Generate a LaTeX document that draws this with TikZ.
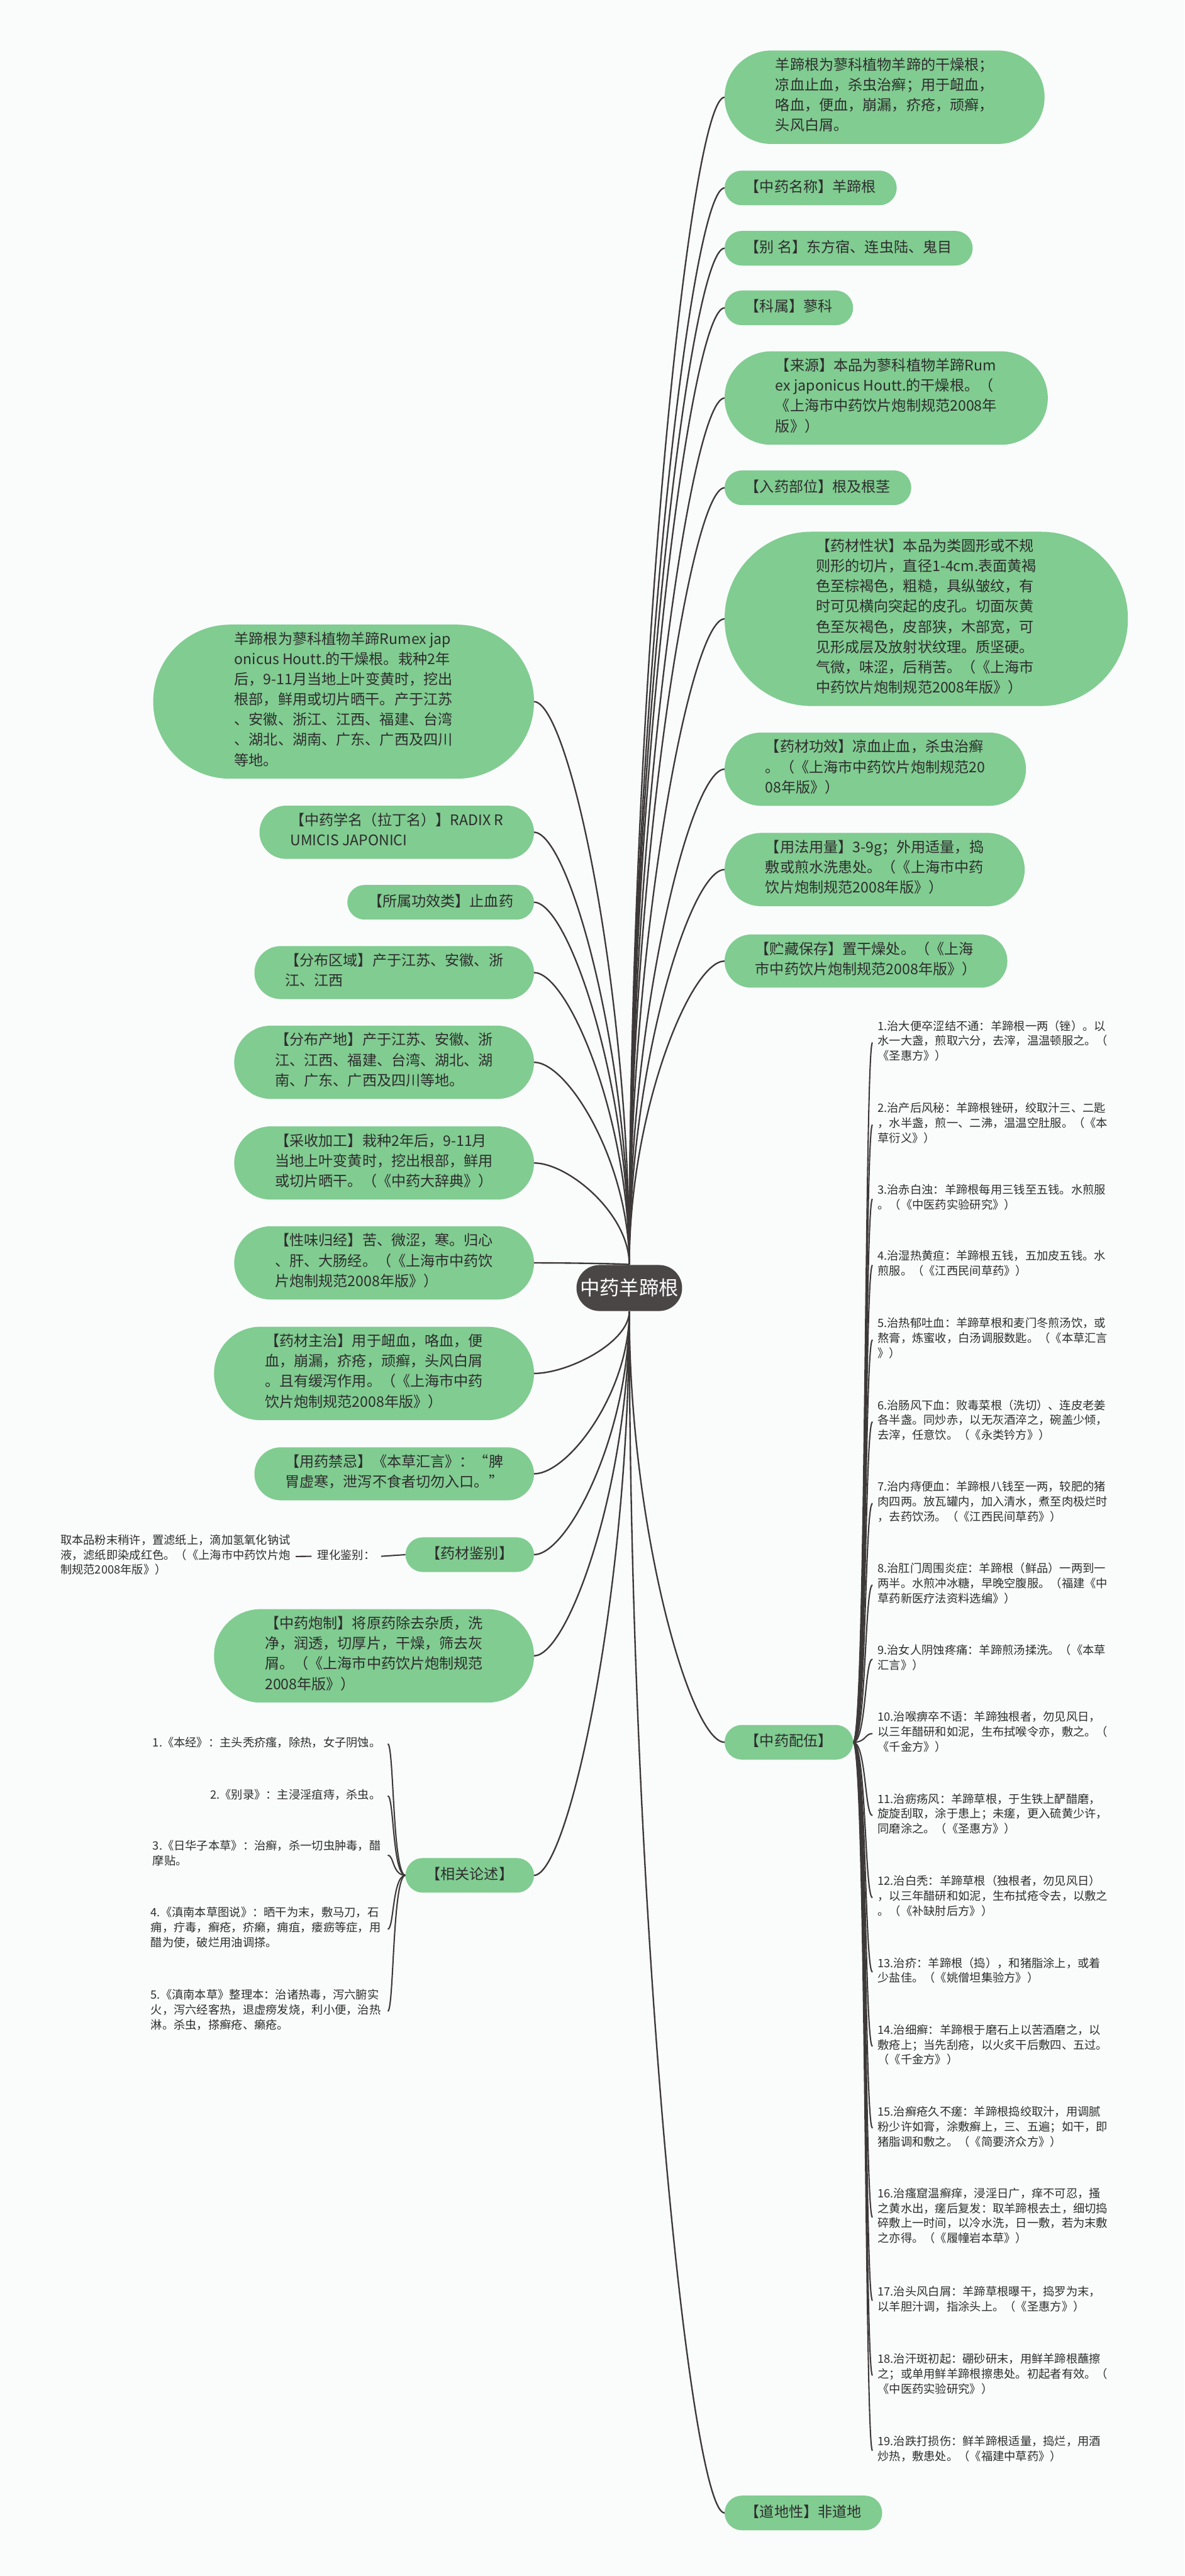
\documentclass[tikz,border=0pt]{standalone}
\usepackage{fontspec}
\newfontfamily\cjk{Noto Sans CJK SC}
\usetikzlibrary{shapes.misc,calc}
\definecolor{pillgreen}{RGB}{129,204,145}
\definecolor{txtc}{RGB}{45,45,45}
\definecolor{linec}{RGB}{62,57,57}
\definecolor{centerc}{RGB}{75,70,70}
\definecolor{bgc}{RGB}{250,252,252}
\pgfdeclarelayer{backlayer}
\pgfdeclarelayer{linelayer}
\pgfdeclarelayer{filllayer}
\pgfsetlayers{backlayer,linelayer,filllayer,main}
\newcommand\cconn[2]{\draw[conn] let \p1=(#1), \p2=(#2) in (\p1) .. controls (\x1,{0.5*\y1+0.5*\y2}) and ({\x1+0.64*(\x2-\x1)},\y2) .. (\p2);}
\newcommand\rconn[2]{\draw[thinconn] let \p1=(#1), \p2=(#2) in (\p1) .. controls ({\x1+8pt},\y1) and ({\x1+7pt},\y2) .. ({\x2-3pt},\y2);}
\newcommand\lconn[2]{\draw[thinconn] let \p1=(#1), \p2=(#2) in (\p1) .. controls ({\x1-8pt},\y1) and ({\x1-7pt},\y2) .. ({\x2+4pt},\y2);}
\tikzset{
 pill/.style={rectangle, text=txtc, font=\cjk\fontsize{8.85}{12.3}\selectfont, align=left, inner ysep=4.2pt, execute at begin node=\strut, execute at end node=\strut},
 pillA/.style={pill, inner xsep=12.35pt},
 pillB/.style={pill, inner xsep=18.5pt},
 pillC/.style={pill, inner xsep=24.65pt},
 pillD/.style={pill, inner xsep=30.8pt},
 pillG/.style={pill, inner xsep=49.25pt},
 pillH/.style={pill, inner xsep=55.4pt},
 centralnode/.style={rounded rectangle, fill=centerc, text=white, font=\cjk\fontsize{12}{14}\selectfont, minimum height=28pt, inner xsep=1pt},
 smalltext/.style={font=\cjk\fontsize{7}{9.15}\selectfont, text=txtc, align=left, inner sep=0pt, execute at begin node=\strut, execute at end node=\strut},
 conn/.style={draw=linec, line width=0.9pt},
 thinconn/.style={draw=linec, line width=0.8pt},
}
\begin{document}
\begin{tikzpicture}[x=1pt,y=-1pt]
\begin{pgfonlayer}{backlayer}
\fill[bgc] (0,0) rectangle (721,1568);
\end{pgfonlayer}
\useasboundingbox (0,0) rectangle (721,1568);

\node[centralnode] (c) at (383,784) {中药羊蹄根};

% right main branches
\node[pillD, anchor=west] (r1) at (441,59.2) {羊蹄根为蓼科植物羊蹄的干燥根；\\凉血止血，杀虫治癣；用于衄血，\\咯血，便血，崩漏，疥疮，顽癣，\\头风白屑。};
\node[pillA, anchor=west] (r2) at (441,114.4) {【中药名称】羊蹄根};
\node[pillA, anchor=west] (r3) at (441,151.1) {【别 名】东方宿、连虫陆、鬼目};
\node[pillA, anchor=west] (r4) at (441,187.4) {【科属】蓼科};
\node[pillD, anchor=west] (r5) at (441,242.3) {【来源】本品为蓼科植物羊蹄Rum\\ex japonicus Houtt.的干燥根。（\\《上海市中药饮片炮制规范2008年\\版》）};
\node[pillA, anchor=west] (r6) at (441,296.9) {【入药部位】根及根茎};
\node[pillH, anchor=west] (r7) at (441,376.7) {【药材性状】本品为类圆形或不规\\则形的切片，直径1-4cm.表面黄褐\\色至棕褐色，粗糙，具纵皱纹，有\\时可见横向突起的皮孔。切面灰黄\\色至灰褐色，皮部狭，木部宽，可\\见形成层及放射状纹理。质坚硬。\\气微，味涩，后稍苦。（《上海市\\中药饮片炮制规范2008年版》）};
\node[pillC, anchor=west] (r8) at (441,468.2) {【药材功效】凉血止血，杀虫治癣\\。（《上海市中药饮片炮制规范20\\08年版》）};
\node[pillC, anchor=west] (r9) at (441,529.3) {【用法用量】3-9g；外用适量，捣\\敷或煎水洗患处。（《上海市中药\\饮片炮制规范2008年版》）};
\node[pillB, anchor=west] (r10) at (441,585) {【贮藏保存】置干燥处。（《上海\\市中药饮片炮制规范2008年版》）};
\node[pillA, anchor=west] (r11) at (441,1060.5) {【中药配伍】};
\node[pillA, anchor=west] (r12) at (441,1529.6) {【道地性】非道地};

% left main branches
\node[pillG, anchor=east] (l1) at (325,427.1) {羊蹄根为蓼科植物羊蹄Rumex jap\\onicus Houtt.的干燥根。栽种2年\\后，9-11月当地上叶变黄时，挖出\\根部，鲜用或切片晒干。产于江苏\\、安徽、浙江、江西、福建、台湾\\、湖北、湖南、广东、广西及四川\\等地。};
\node[pillB, anchor=east] (l2) at (325,506.6) {【中药学名（拉丁名）】RADIX R\\UMICIS JAPONICI};
\node[pillA, anchor=east] (l3) at (325,549.2) {【所属功效类】止血药};
\node[pillB, anchor=east] (l4) at (325,592) {【分布区域】产于江苏、安徽、浙\\江、江西};
\node[pillC, anchor=east] (l5) at (325,646.6) {【分布产地】产于江苏、安徽、浙\\江、江西、福建、台湾、湖北、湖\\南、广东、广西及四川等地。};
\node[pillC, anchor=east] (l6) at (325,707.9) {【采收加工】栽种2年后，9-11月\\当地上叶变黄时，挖出根部，鲜用\\或切片晒干。（《中药大辞典》）};
\node[pillC, anchor=east] (l7) at (325,768.7) {【性味归经】苦、微涩，寒。归心\\、肝、大肠经。（《上海市中药饮\\片炮制规范2008年版》）};
\node[pillD, anchor=east] (l8) at (325,836) {【药材主治】用于衄血，咯血，便\\血，崩漏，疥疮，顽癣，头风白屑\\。且有缓泻作用。（《上海市中药\\饮片炮制规范2008年版》）};
\node[pillB, anchor=east] (l9) at (325,897.1) {【用药禁忌】《本草汇言》：“脾\\胃虚寒，泄泻不食者切勿入口。”};
\node[pillA, anchor=east] (l10) at (325,946.3) {【药材鉴别】};
\node[pillD, anchor=east] (l11) at (325,1007.9) {【中药炮制】将原药除去杂质，洗\\净，润透，切厚片，干燥，筛去灰\\屑。（《上海市中药饮片炮制规范\\2008年版》）};
\node[pillA, anchor=east] (l12) at (325,1141.5) {【相关论述】};

% 药材鉴别 sub
\node[smalltext, anchor=east, inner xsep=3.5pt] (lh) at (232,947.3) {理化鉴别：};
\node[smalltext, anchor=east, inner xsep=3pt] (qu) at (180,947.4) {取本品粉末稍许，置滤纸上，滴加氢氧化钠试\\液，滤纸即染成红色。（《上海市中药饮片炮\\制规范2008年版》）};

% 相关论述 items
\node[smalltext, anchor=east] (q1) at (232,1061.5) {1.《本经》：主头秃疥瘙，除热，女子阴蚀。};
\node[smalltext, anchor=east] (q2) at (232,1093.1) {2.《别录》：主浸淫疽痔，杀虫。};
\node[smalltext, anchor=east] (q3) at (232,1129.2) {3.《日华子本草》：治癣，杀一切虫肿毒，醋\\摩贴。};
\node[smalltext, anchor=east] (q4) at (232,1174.3) {4.《滇南本草图说》：晒干为末，敷马刀，石\\痈，疔毒，癣疮，疥癞，痈疽，瘘疬等症，用\\醋为使，破烂用油调搽。};
\node[smalltext, anchor=east] (q5) at (232,1224.2) {5.《滇南本草》整理本：治诸热毒，泻六腑实\\火，泻六经客热，退虚痨发烧，利小便，治热\\淋。杀虫，搽癣疮、癞疮。};

% 中药配伍 items
\node[smalltext, anchor=west] (p1) at (534,634.6) {1.治大便卒涩结不通：羊蹄根一两（锉）。以\\水一大盏，煎取六分，去滓，温温顿服之。（\\《圣惠方》）};
\node[smalltext, anchor=west] (p2) at (534,684.6) {2.治产后风秘：羊蹄根锉研，绞取汁三、二匙\\，水半盏，煎一、二沸，温温空肚服。（《本\\草衍义》）};
\node[smalltext, anchor=west] (p3) at (534,729.8) {3.治赤白浊：羊蹄根每用三钱至五钱。水煎服\\。（《中医药实验研究》）};
\node[smalltext, anchor=west] (p4) at (534,770.1) {4.治湿热黄疸：羊蹄根五钱，五加皮五钱。水\\煎服。（《江西民间草药》）};
\node[smalltext, anchor=west] (p5) at (534,815.5) {5.治热郁吐血：羊蹄草根和麦门冬煎汤饮，或\\熬膏，炼蜜收，白汤调服数匙。（《本草汇言\\》）};
\node[smalltext, anchor=west] (p6) at (534,865.4) {6.治肠风下血：败毒菜根（洗切）、连皮老姜\\各半盏。同炒赤，以无灰酒淬之，碗盖少倾，\\去滓，任意饮。（《永类钤方》）};
\node[smalltext, anchor=west] (p7) at (534,915.1) {7.治内痔便血：羊蹄根八钱至一两，较肥的猪\\肉四两。放瓦罐内，加入清水，煮至肉极烂时\\，去药饮汤。（《江西民间草药》）};
\node[smalltext, anchor=west] (p8) at (534,964.8) {8.治肛门周围炎症：羊蹄根（鲜品）一两到一\\两半。水煎冲冰糖，早晚空腹服。（福建《中\\草药新医疗法资料选编》）};
\node[smalltext, anchor=west] (p9) at (534,1009.9) {9.治女人阴蚀疼痛：羊蹄煎汤揉洗。（《本草\\汇言》）};
\node[smalltext, anchor=west] (p10) at (534,1055.2) {10.治喉痹卒不语：羊蹄独根者，勿见风日，\\以三年醋研和如泥，生布拭喉令亦，敷之。（\\《千金方》）};
\node[smalltext, anchor=west] (p11) at (534,1105.1) {11.治疬疡风：羊蹄草根，于生铁上酽醋磨，\\旋旋刮取，涂于患上；未瘥，更入硫黄少许，\\同磨涂之。（《圣惠方》）};
\node[smalltext, anchor=west] (p12) at (534,1155.1) {12.治白秃：羊蹄草根（独根者，勿见风日）\\，以三年醋研和如泥，生布拭疮令去，以敷之\\。（《补缺肘后方》）};
\node[smalltext, anchor=west] (p13) at (534,1200.4) {13.治疥：羊蹄根（捣），和猪脂涂上，或着\\少盐佳。（《姚僧坦集验方》）};
\node[smalltext, anchor=west] (p14) at (534,1245.6) {14.治细癣：羊蹄根于磨石上以苦酒磨之，以\\敷疮上；当先刮疮，以火炙干后敷四、五过。\\（《千金方》）};
\node[smalltext, anchor=west] (p15) at (534,1295.4) {15.治癣疮久不瘥：羊蹄根捣绞取汁，用调腻\\粉少许如膏，涂敷癣上，三、五遍；如干，即\\猪脂调和敷之。（《简要济众方》）};
\node[smalltext, anchor=west] (p16) at (534,1349.7) {16.治瘙窟温癣痒，浸淫日广，痒不可忍，搔\\之黄水出，瘥后复发：取羊蹄根去土，细切捣\\碎敷上一时间，以冷水洗，日一敷，若为末敷\\之亦得。（《履幢岩本草》）};
\node[smalltext, anchor=west] (p17) at (534,1400.3) {17.治头风白屑：羊蹄草根曝干，捣罗为末，\\以羊胆汁调，指涂头上。（《圣惠方》）};
\node[smalltext, anchor=west] (p18) at (534,1445.9) {18.治汗斑初起：硼砂研末，用鲜羊蹄根蘸擦\\之；或单用鲜羊蹄根擦患处。初起者有效。（\\《中医药实验研究》）};
\node[smalltext, anchor=west] (p19) at (534,1491.7) {19.治跌打损伤：鲜羊蹄根适量，捣烂，用酒\\炒热，敷患处。（《福建中草药》）};

\begin{pgfonlayer}{filllayer}
\foreach \nm in {r1,r2,r3,r4,r5,r6,r7,r8,r9,r10,r11,r12,l1,l2,l3,l4,l5,l6,l7,l8,l9,l10,l11,l12}{
  \fill[pillgreen] let \p1=(\nm.south west), \p2=(\nm.north east), \n1={0.499*abs(\y2-\y1)} in [rounded corners=\n1] (\p1) rectangle (\p2);
}
\end{pgfonlayer}

\begin{pgfonlayer}{linelayer}
\foreach \i in {1,...,10} {\cconn{c.north}{r\i.west}}
\foreach \i in {11,12} {\cconn{c.south}{r\i.west}}
\foreach \i in {1,...,7} {\cconn{c.north}{l\i.east}}
\foreach \i in {8,...,12} {\cconn{c.south}{l\i.east}}
\foreach \i in {1,...,19} {\rconn{r11.east}{p\i.west}}
\foreach \i in {1,...,5} {\lconn{l12.west}{q\i.east}}
\draw[thinconn] (qu.east) -- (lh.west);
\draw[thinconn] (lh.east) -- (l10.west);
\end{pgfonlayer}
\end{tikzpicture}
\end{document}
